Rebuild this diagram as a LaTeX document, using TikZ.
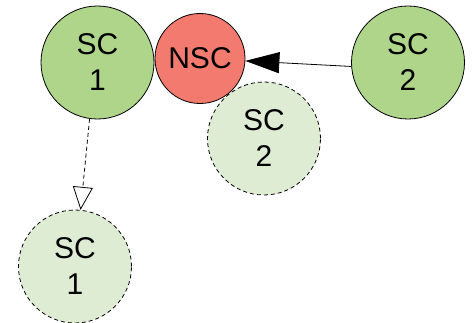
\documentclass[tikz,border=0pt]{standalone}
\usepackage{fontspec}
\setmainfont{Liberation Sans}
\usetikzlibrary{arrows.meta}
\definecolor{scgreen}{RGB}{174,213,138}
\definecolor{scpale}{RGB}{222,236,212}
\definecolor{nscred}{RGB}{242,122,110}
\tikzset{
  state/.style={circle, draw=black, line width=0.8pt, inner sep=0pt,
    minimum size=113pt, align=center,
    font=\fontsize{30}{36}\selectfont},
  scsolid/.style={state, fill=scgreen},
  scghost/.style={state, fill=scpale, dashed, dash pattern=on 4pt off 3pt},
  nscnode/.style={state, fill=nscred, minimum size=90pt},
  link/.style={line width=0.8pt},
}
\begin{document}
\begin{tikzpicture}[x=1pt, y=-1pt]
  \useasboundingbox (0,0) rectangle (473,323);
  % active states
  \node[scsolid] (sc1) at (97.5,62.5) {SC\\1};
  \node[scsolid] (sc2) at (408,62.5) {SC\\2};
  \node[nscnode] (nsc) at (200,58.5) {NSC};
  % previous positions
  \node[scghost] (sc2old) at (264,138.5) {SC\\2};
  \node[scghost] (sc1new) at (75,266.5) {SC\\1};
  % transitions
  \draw[link, -{Triangle[length=34pt, width=21pt]}] (sc2.184) -- (nsc.-3);
  \draw[link, dashed, dash pattern=on 4pt off 3pt,
        -{Triangle[open, length=23pt, width=20pt, fill=white]}]
        (sc1.-98) -- (sc1new);
\end{tikzpicture}
\end{document}
